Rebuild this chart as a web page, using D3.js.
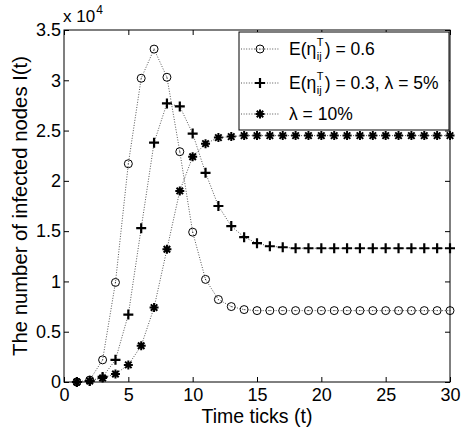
<!DOCTYPE html>
<html>
<head>
<meta charset="utf-8">
<script src="https://cdn.jsdelivr.net/npm/d3@7"></script>
<style>
  body { margin: 0; background: #fff; }
  text { font-family: "Liberation Sans", Arial, sans-serif; fill: #000; }
</style>
</head>
<body>
<div id="chart"></div>
<script>
// data (values in units of 1e4)
const ticks = d3.range(1, 31);
const seriesA = [0, 0.02, 0.22, 0.99, 2.17, 3.02, 3.31, 3.03, 2.29, 1.49, 1.02, 0.82, 0.75, 0.72,
  0.71, 0.71, 0.71, 0.71, 0.71, 0.71, 0.71, 0.71, 0.71, 0.71, 0.71, 0.71, 0.71, 0.71, 0.71, 0.71];
const seriesB = [0, 0.01, 0.05, 0.22, 0.67, 1.53, 2.38, 2.77, 2.74, 2.47, 2.08, 1.75, 1.55, 1.44,
  1.38, 1.35, 1.34, 1.33, 1.33, 1.33, 1.33, 1.33, 1.33, 1.33, 1.33, 1.33, 1.33, 1.33, 1.33, 1.33];
const seriesC = [0, 0.01, 0.04, 0.08, 0.17, 0.36, 0.74, 1.32, 1.90, 2.24, 2.37, 2.43, 2.44, 2.45,
  2.45, 2.45, 2.45, 2.45, 2.45, 2.45, 2.45, 2.45, 2.45, 2.45, 2.45, 2.45, 2.45, 2.45, 2.45, 2.45];
const xTicks = [0, 5, 10, 15, 20, 25, 30];
const yTicks = [0, 0.5, 1, 1.5, 2, 2.5, 3, 3.5];

const width = 464, height = 431;
const margin = { left: 64, right: 14, top: 30, bottom: 49 };

const svg = d3.select("#chart").append("svg")
  .attr("width", width)
  .attr("height", height);

const x = d3.scaleLinear().domain([0, 30]).range([margin.left, width - margin.right]);
const y = d3.scaleLinear().domain([0, 3.5]).range([height - margin.bottom, margin.top]);

// axes (ticks inward, box on)
const tickLen = 5;
svg.append("g")
  .attr("transform", `translate(0,${y(0)})`)
  .call(d3.axisBottom(x).tickValues(xTicks).tickSize(-tickLen).tickPadding(6).tickFormat(d3.format("d")))
  .call(g => g.select(".domain").remove())
  .call(g => g.selectAll("text").style("font-size", "18px").style("font-family", "Liberation Sans, Arial, sans-serif"));
svg.append("g")
  .attr("transform", `translate(0,${y(3.5)})`)
  .call(d3.axisTop(x).tickValues(xTicks).tickSize(-tickLen).tickFormat(""))
  .call(g => g.select(".domain").remove());
svg.append("g")
  .attr("transform", `translate(${x(0)},0)`)
  .call(d3.axisLeft(y).tickValues(yTicks).tickSize(-tickLen).tickPadding(3).tickFormat(d => d === 0 ? "0" : d3.format("")(d)))
  .call(g => g.select(".domain").remove())
  .call(g => g.selectAll("text").style("font-size", "18px").style("font-family", "Liberation Sans, Arial, sans-serif"));
svg.append("g")
  .attr("transform", `translate(${x(30)},0)`)
  .call(d3.axisRight(y).tickValues(yTicks).tickSize(-tickLen).tickFormat(""))
  .call(g => g.select(".domain").remove());

svg.append("rect")
  .attr("x", x(0)).attr("y", y(3.5))
  .attr("width", x(30) - x(0)).attr("height", y(0) - y(3.5))
  .attr("fill", "none").attr("stroke", "#000").attr("stroke-width", 1);

// exponent label
const expo = svg.append("text").attr("x", x(0) - 1).attr("y", 22).style("font-size", "17px");
expo.append("tspan").text("x 10");
expo.append("tspan").attr("dy", -8).attr("dx", 1).style("font-size", "12px").text("4");

// axis labels
svg.append("text")
  .attr("x", (x(0) + x(30)) / 2).attr("y", 423)
  .attr("text-anchor", "middle").style("font-size", "19.5px")
  .text("Time ticks (t)");
svg.append("text")
  .attr("transform", `translate(26.5,${(y(0) + y(3.5)) / 2}) rotate(-90)`)
  .attr("text-anchor", "middle").style("font-size", "20.3px")
  .text("The number of infected nodes I(t)");

// markers
function drawMarker(g, type, cx, cy) {
  if (type === "circle") {
    g.append("circle").attr("cx", cx).attr("cy", cy).attr("r", 4)
      .attr("fill", "none").attr("stroke", "#000").attr("stroke-width", 1);
    g.append("circle").attr("cx", cx).attr("cy", cy).attr("r", 0.6).attr("fill", "#333");
  } else if (type === "plus") {
    const s = 5;
    g.append("path")
      .attr("d", `M${cx - s},${cy}H${cx + s}M${cx},${cy - s}V${cy + s}`)
      .attr("stroke", "#000").attr("stroke-width", 2.2).attr("fill", "none");
  } else {
    const s = 4.5, d = s * 0.72;
    g.append("path")
      .attr("d", `M${cx - s},${cy}H${cx + s}M${cx},${cy - s}V${cy + s}` +
        `M${cx - d},${cy - d}L${cx + d},${cy + d}M${cx - d},${cy + d}L${cx + d},${cy - d}`)
      .attr("stroke", "#000").attr("stroke-width", 2).attr("fill", "none");
  }
}

const series = [
  { values: seriesA, marker: "circle" },
  { values: seriesB, marker: "plus" },
  { values: seriesC, marker: "star" }
];

const line = d3.line().x((d, i) => x(ticks[i])).y(d => y(d));

series.forEach(s => {
  svg.append("path")
    .datum(s.values)
    .attr("d", line)
    .attr("fill", "none")
    .attr("stroke", "#555")
    .attr("stroke-width", 1)
    .attr("stroke-dasharray", "1,1.6");
});
series.forEach(s => {
  const g = svg.append("g");
  s.values.forEach((v, i) => drawMarker(g, s.marker, x(ticks[i]), y(v)));
});

// legend
const lg = svg.append("g");
lg.append("rect")
  .attr("x", 239).attr("y", 32).attr("width", 210).attr("height", 98)
  .attr("fill", "#fff").attr("stroke", "#000").attr("stroke-width", 1);

const legendRows = [
  { marker: "circle", y: 55, pre: "E(η", post: ") = 0.6", sub: true },
  { marker: "plus", y: 89, pre: "E(η", post: ") = 0.3, λ = 5%", sub: true },
  { marker: "star", y: 120, pre: "λ = 10%", post: "", sub: false }
];

legendRows.forEach(r => {
  const cy = r.y - 6;
  lg.append("line")
    .attr("x1", 241).attr("x2", 280).attr("y1", cy).attr("y2", cy)
    .attr("stroke", "#555").attr("stroke-width", 1).attr("stroke-dasharray", "1,1.6");
  drawMarker(lg, r.marker, 260, cy);
  const t = lg.append("text").attr("x", 289).attr("y", r.y).style("font-size", "17.5px").text(r.pre);
  if (r.sub) {
    const w = t.node().getComputedTextLength();
    const sx = 289 + w + 0.5;
    lg.append("text").attr("x", sx).attr("y", r.y - 9).style("font-size", "11px").text("T");
    const ij = lg.append("text").attr("x", sx).attr("y", r.y + 5).style("font-size", "11px").text("ij");
    const w2 = Math.max(ij.node().getComputedTextLength(), 7);
    lg.append("text").attr("x", sx + w2 + 1).attr("y", r.y).style("font-size", "17.5px").text(r.post);
  }
});
</script>
</body>
</html>
